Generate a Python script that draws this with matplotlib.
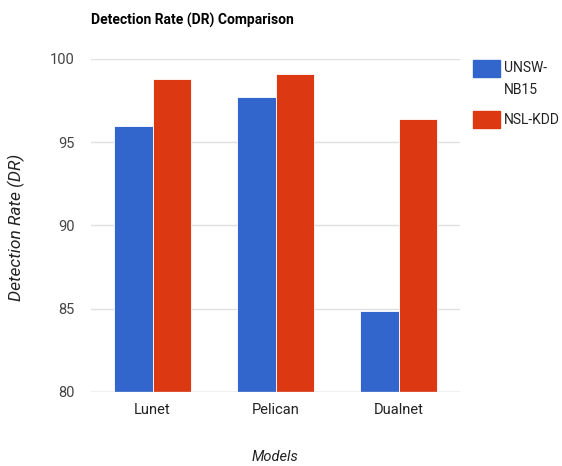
import matplotlib
matplotlib.use("Agg")
import matplotlib.pyplot as plt
from matplotlib.patches import Rectangle
import numpy as np

FONT = "Roboto"
plt.rcParams['font.family'] = [FONT, 'DejaVu Sans']

models = ["Lunet", "Pelican", "Dualnet"]
series = ["UNSW-\nNB15", "NSL-KDD"]
unsw = [96.0, 97.7, 84.85]
nsl = [98.8, 99.1, 96.4]
yticks = [80, 85, 90, 95, 100]
colors = ["#3366CC", "#DC3912"]

fig = plt.figure(figsize=(5.62, 4.66), dpi=100)
ax = fig.add_axes([91/562, 1-392/466, (460-91)/562, (392-59)/466])

x = np.arange(len(models))
w = 0.31
ax.bar(x - w/2, unsw, w, color=colors[0], edgecolor="white", linewidth=0.6, zorder=3)
ax.bar(x + w/2, nsl, w, color=colors[1], edgecolor="white", linewidth=0.6, zorder=3)

ax.set_xlim(-0.5, 2.5)
ax.set_ylim(80, 100)
ax.set_yticks(yticks)
ax.set_yticklabels([str(t) for t in yticks], fontsize=10.5, color="#444444")
ax.set_xticks(x)
ax.set_xticklabels(models, fontsize=10.5, color="#222222")
ax.tick_params(length=0)
ax.tick_params(axis='y', pad=12)
ax.tick_params(axis='x', pad=8)
ax.grid(axis='y', color="#E0E0E0", linewidth=1, zorder=0)
for s in ax.spines.values():
    s.set_visible(False)
ax.axhline(80, color="#CCCCCC", linewidth=1, zorder=4)

fig.text(91/562, 1-20/466, "Detection Rate (DR) Comparison", fontsize=10, fontweight="bold",
         color="#000000", va="center", ha="left")
fig.text(16/562, 1-227/466, "Detection Rate (DR)", rotation=90, fontsize=12.5, style="italic",
         color="#222222", va="center", ha="center")
fig.text(275/562, 1-457/466, "Models", fontsize=10.5, style="italic", color="#222222",
         va="center", ha="center")

# legend
leg_items = [(60, series[0]), (111, series[1])]
for (ytop, label), c in zip(leg_items, colors):
    fig.patches.append(Rectangle((473/562, 1-(ytop+17)/466), 27/562, 17/466,
                                 transform=fig.transFigure, color=c))
    fig.text(504/562, 1-(ytop+1)/466 if "\n" in label else 1-(ytop+8.5)/466, label,
             fontsize=10, color="#222222", va="top" if "\n" in label else "center",
             ha="left", linespacing=1.7)

fig.savefig("out.png", dpi=100)
